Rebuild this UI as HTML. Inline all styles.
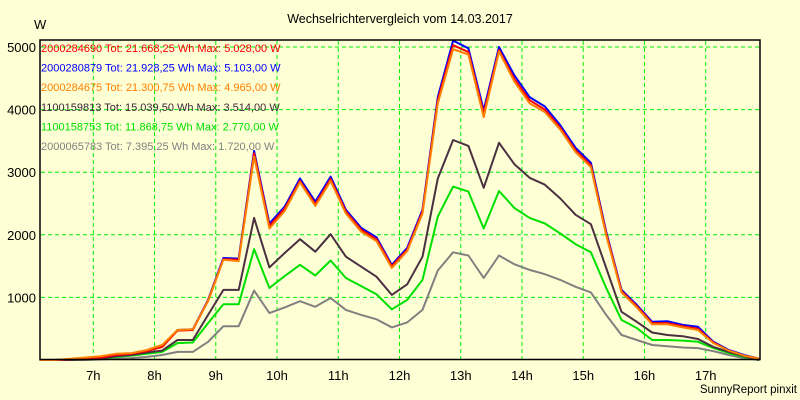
<!DOCTYPE html>
<html><head><meta charset="utf-8"><style>
body{margin:0;background:#ffffd6;}
svg{display:block;font-family:"Liberation Sans",sans-serif;}
</style></head><body>
<svg id="chart" width="800" height="400">
<rect x="0" y="0" width="800" height="400" fill="#ffffd6"/>
<text x="400" y="23" text-anchor="middle" font-size="12.5" fill="#000">Wechselrichtervergleich vom 14.03.2017</text>
<text x="34" y="29" font-size="13" fill="#000">W</text>
<g id="grid"></g>
<g id="ylabels"></g>
<g id="xlabels"></g>
<g id="series"></g>
<rect x="40" y="40" width="720" height="319.5" fill="none" stroke="#000" stroke-width="1.5"/>
<g id="legend"></g>
<text x="797" y="393" text-anchor="end" font-size="11.5" fill="#000">SunnyReport pinxit</text>
</svg>
<script>
const hours = [7,8,9,10,11,12,13,14,15,16,17];
const yTicks = [1000,2000,3000,4000,5000];
const times = [6.125,6.375,6.625,6.875,7.125,7.375,7.625,7.875,8.125,8.375,8.625,8.875,9.125,9.375,9.625,9.875,10.125,10.375,10.625,10.875,11.125,11.375,11.625,11.875,12.125,12.375,12.625,12.875,13.125,13.375,13.625,13.875,14.125,14.375,14.625,14.875,15.125,15.375,15.625,15.875,16.125,16.375,16.625,16.875,17.125,17.375,17.625,17.875];
const sRed = [0,0,10,30,40,80,100,140,210,470,480,950,1610,1600,3300,2140,2420,2860,2490,2890,2370,2080,1930,1500,1760,2370,4150,5028,4920,3940,4950,4490,4150,4000,3710,3350,3110,2020,1100,860,590,590,540,500,280,150,70,20];
const sBlue = [0,0,10,30,40,80,100,140,220,480,490,960,1630,1620,3340,2180,2450,2900,2530,2930,2400,2110,1960,1520,1790,2400,4200,5103,4980,3990,5000,4550,4200,4050,3750,3390,3150,2050,1120,880,610,620,560,530,290,160,80,20];
const sOrange = [0,0,20,40,60,100,110,160,240,480,490,940,1600,1580,3250,2100,2380,2840,2460,2860,2340,2050,1900,1470,1740,2340,4100,4965,4880,3880,4930,4450,4100,3960,3680,3320,3080,1990,1080,840,570,570,520,480,270,150,70,20];
const sDark = [0,0,0,10,20,60,80,120,150,320,320,720,1120,1120,2270,1480,1710,1930,1730,2010,1650,1490,1330,1040,1210,1650,2900,3514,3420,2750,3470,3130,2910,2800,2580,2320,2170,1470,770,610,440,400,380,335,210,130,60,0];
const sGreen = [0,0,0,10,20,50,70,100,130,270,280,590,890,890,1770,1150,1340,1520,1350,1590,1310,1180,1050,810,960,1280,2290,2770,2690,2100,2700,2430,2270,2180,2020,1850,1720,1150,640,510,320,320,310,290,190,110,50,0];
const sGray = [0,0,0,0,10,20,30,50,80,130,130,290,540,540,1110,750,840,940,850,990,800,720,650,520,600,800,1430,1720,1670,1310,1670,1530,1440,1370,1280,1170,1080,720,400,320,240,220,200,190,140,80,30,0];
const legendLabels = ["2000284690 Tot: 21.668,25 Wh Max: 5.028,00 W","2000280879 Tot: 21.928,25 Wh Max: 5.103,00 W","2000284675 Tot: 21.300,75 Wh Max: 4.965,00 W","1100159813 Tot: 15.039,50 Wh Max: 3.514,00 W","1100158753 Tot: 11.868,75 Wh Max: 2.770,00 W","2000065783 Tot: 7.395,25 Wh Max: 1.720,00 W"];

const NS="http://www.w3.org/2000/svg";
const xOf = h => 93.3 + (h-7)*61.24;
const yOf = v => 360 - v*0.0626;
function mk(tag, attrs, parent){const e=document.createElementNS(NS,tag);for(const k in attrs)e.setAttribute(k,attrs[k]);parent.appendChild(e);return e;}
const grid=document.getElementById('grid'), yl=document.getElementById('ylabels'), xl=document.getElementById('xlabels'), sg=document.getElementById('series'), lg=document.getElementById('legend');
hours.forEach(h=>{
  const l=mk('line',{x1:xOf(h),x2:xOf(h),y1:41,y2:359,stroke:'#00ee00','stroke-width':1,'stroke-dasharray':'4,3'},grid);
  
  
  const t=mk('text',{x:xOf(h),y:380,'text-anchor':'middle','font-size':13,fill:'#000'},xl);
  t.textContent=h+'h';
  
  
});
yTicks.forEach(v=>{
  const l=mk('line',{x1:41,x2:759,y1:yOf(v),y2:yOf(v),stroke:'#00ee00','stroke-width':1,'stroke-dasharray':'4,3'},grid);
  
  
  const t=mk('text',{x:36,y:yOf(v)+5,'text-anchor':'end','font-size':13,fill:'#000'},yl);
  t.textContent=v;
  
  
});
const seriesList=[[sGray,'#808080'],[sGreen,'#00e000'],[sDark,'#4a3040'],[sBlue,'#0000ff'],[sRed,'#ff0000'],[sOrange,'#ff8000']];
const names=['series-2000065783','series-1100158753','series-1100159813','series-2000280879','series-2000284690','series-2000284675'];
seriesList.forEach((s,i)=>{
  const pts=times.map((t,j)=>xOf(t).toFixed(1)+','+yOf(s[0][j]).toFixed(1)).join(' ');
  const p=mk('polyline',{points:pts,fill:'none',stroke:s[1],'stroke-width':2,'stroke-linejoin':'round'},sg);
  
  
});
const lcol=['#ff0000','#0000ff','#ff8000','#3a2838','#00e000','#808080'];
legendLabels.forEach((txt,i)=>{
  const t=mk('text',{x:41,y:52+i*19.6,'font-size':11,fill:lcol[i]},lg);
  t.textContent=txt;
  
  
});
</script>
</body></html>
